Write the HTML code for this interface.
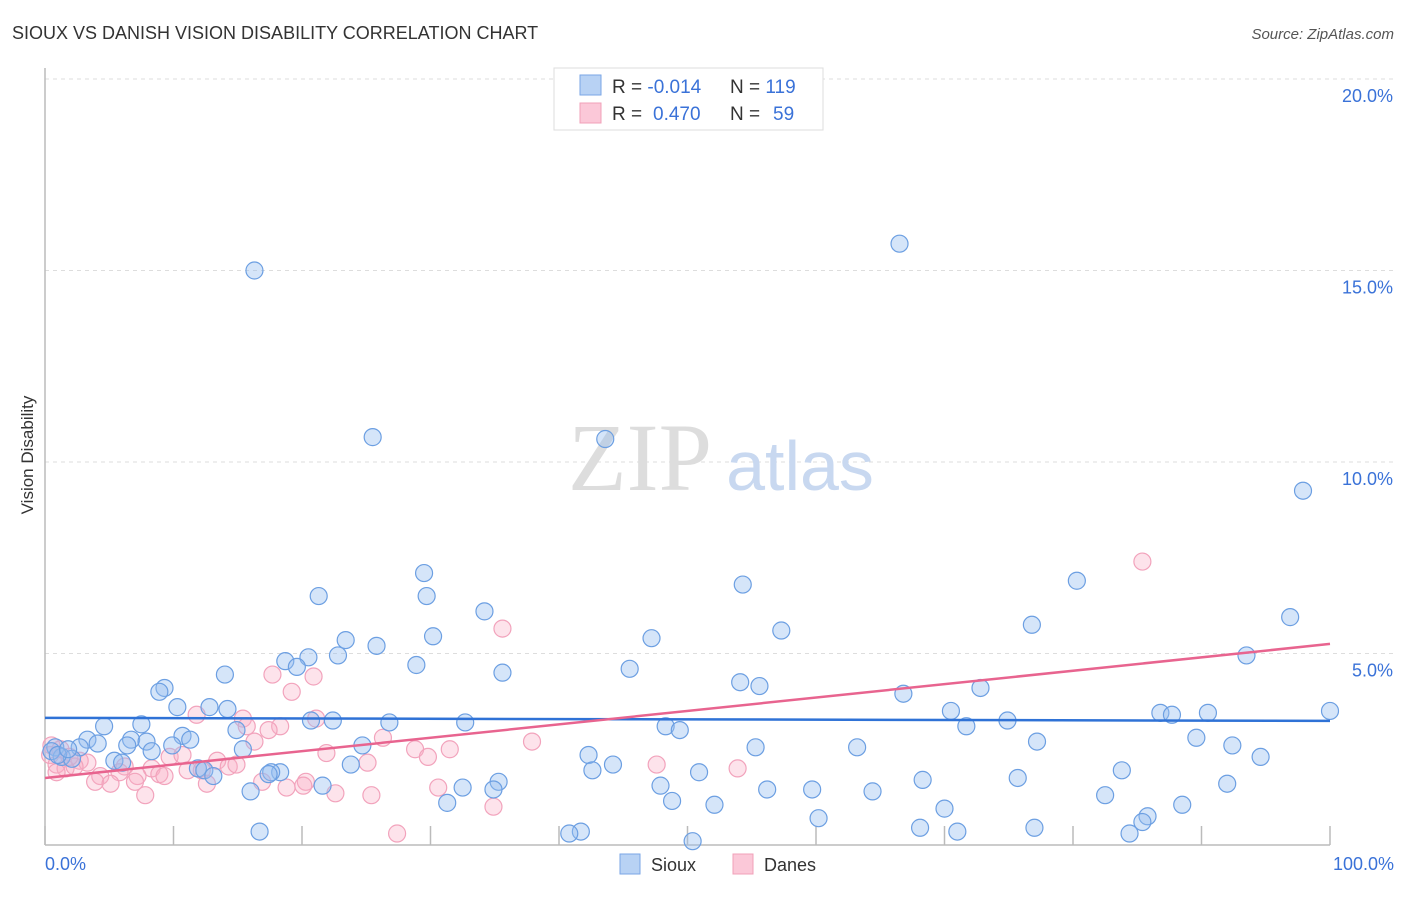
<!DOCTYPE html>
<html><head><meta charset="utf-8"><style>
body{margin:0;background:#fff;font-family:"Liberation Sans",sans-serif;}
svg text{font-family:"Liberation Sans",sans-serif;}
</style></head><body>
<svg id="chart" width="1406" height="892" xmlns="http://www.w3.org/2000/svg">
<text x="12" y="39" font-size="18" fill="#333">SIOUX VS DANISH VISION DISABILITY CORRELATION CHART</text>
<text x="1394" y="39" font-size="15" fill="#555" font-style="italic" text-anchor="end">Source: ZipAtlas.com</text>
<text x="33" y="455" font-size="17" fill="#333" text-anchor="middle" transform="rotate(-90 33 455)">Vision Disability</text>
<g id="grid"></g>
<g id="yticks"></g>
<line x1="45" y1="68" x2="45" y2="845" stroke="#bbb" stroke-width="1.5"/>
<line x1="45" y1="845" x2="1330" y2="845" stroke="#bbb" stroke-width="1.5"/>
<g id="xticks"></g>
<text x="640" y="490" font-size="96" fill="#ddd" font-family="Liberation Serif" text-anchor="middle" style="font-family:'Liberation Serif',serif">ZIP</text>
<text x="800" y="490" font-size="70" fill="#c8d8f0" text-anchor="middle">atlas</text>
<g id="pts"></g>
<g id="trends"></g>
<text x="45" y="870" font-size="18" fill="#3a72d8">0.0%</text>
<text x="1394" y="870" font-size="18" fill="#3a72d8" text-anchor="end">100.0%</text>
<g>
<rect x="554" y="68" width="269" height="62" fill="#fff" stroke="#ddd"/>
<rect x="580" y="75" width="21" height="20" fill="#b8d2f4" stroke="#7aa6e6"/>
<rect x="580" y="103" width="21" height="20" fill="#fbc8d8" stroke="#f0a0b8"/>
<text x="612" y="93" font-size="19" fill="#333">R = <tspan fill="#3a72d8">-0.014</tspan></text>
<text x="730" y="93" font-size="19" fill="#333">N = <tspan fill="#3a72d8">119</tspan></text>
<text x="612" y="120" font-size="19" fill="#333">R = <tspan fill="#3a72d8" x="653">0.470</tspan></text>
<text x="730" y="120" font-size="19" fill="#333">N = <tspan fill="#3a72d8" x="773">59</tspan></text>
</g>
<g>
<rect x="620" y="854" width="20" height="20" fill="#b8d2f4" stroke="#7aa6e6"/>
<text x="651" y="871" font-size="18" fill="#333">Sioux</text>
<rect x="733" y="854" width="20" height="20" fill="#fbc8d8" stroke="#f0a0b8"/>
<text x="764" y="871" font-size="18" fill="#333">Danes</text>
</g>
</svg>
<script>
const siouxX=[16.3,66.5,25.5,43.6,97.9,29.5,54.3,80.3,29.7,21.3,34.2,96.9,76.8,57.3,30.2,47.2,23.4,25.8,20.5,18.7,22.8,19.6,28.9,93.5,45.5,35.6,14.0,9.3,8.9,54.1,55.6,72.8,66.8,12.8,10.3,14.2,70.5,86.8,87.7,90.5,100,20.7,22.4,26.8,32.7,74.9,7.5,4.6,48.3,49.4,71.7,14.9,10.7,11.3,6.7,7.9,3.3,89.6,77.2,4.1,6.4,2.7,9.9,0.8,15.4,8.3,24.7,55.3,63.2,92.4,42.3,94.6,1.3,2.1,5.4,6.0,23.8,44.2,42.6,11.9,12.4,18.3,17.6,17.4,13.1,50.9,83.8,68.3,75.7,35.3,92,21.6,32.5,34.9,47.9,16.0,56.2,59.7,64.4,48.8,31.3,52.1,82.5,88.5,70,60.2,85.8,85.4,16.7,41.7,40.8,68.1,71,77.0,84.4,50.4,0.5,1.0,1.8];
const siouxY=[15.0,15.7,10.65,10.6,9.25,7.1,6.8,6.9,6.5,6.5,6.1,5.95,5.75,5.6,5.45,5.4,5.35,5.2,4.9,4.8,4.95,4.65,4.7,4.95,4.6,4.5,4.45,4.1,4.0,4.25,4.15,4.1,3.95,3.6,3.6,3.55,3.5,3.45,3.4,3.45,3.5,3.25,3.25,3.2,3.2,3.25,3.15,3.1,3.1,3.0,3.1,3.0,2.85,2.75,2.75,2.7,2.75,2.8,2.7,2.65,2.6,2.55,2.6,2.55,2.5,2.45,2.6,2.55,2.55,2.6,2.35,2.3,2.3,2.25,2.2,2.15,2.1,2.1,1.95,2.0,1.95,1.9,1.9,1.85,1.8,1.9,1.95,1.7,1.75,1.65,1.6,1.55,1.5,1.45,1.55,1.4,1.45,1.45,1.4,1.15,1.1,1.05,1.3,1.05,0.95,0.7,0.75,0.6,0.35,0.35,0.3,0.45,0.35,0.45,0.3,0.1,2.45,2.35,2.5];
const danesX=[85.4,35.6,17.7,20.9,19.2,11.8,15.4,21.1,15.7,18.3,17.4,26.3,16.3,37.9,28.8,31.5,21.9,29.8,9.7,13.4,10.7,25.1,0.5,0.4,2.7,3.3,0.9,1.6,6.2,8.3,14.3,14.9,12.2,11.1,47.6,53.9,0.9,4.3,5.8,7.2,8.9,7.0,3.9,5.1,9.3,12.6,16.9,20.3,20.1,18.8,30.6,22.6,7.8,25.4,34.9,27.4,2.3,1.2,1.9];
const danesY=[7.4,5.65,4.45,4.4,4.0,3.4,3.3,3.3,3.1,3.1,3.0,2.8,2.7,2.7,2.5,2.5,2.4,2.3,2.3,2.2,2.35,2.15,2.6,2.35,2.2,2.15,2.1,2.0,2.05,2.0,2.05,2.1,1.95,1.95,2.1,2.0,1.9,1.8,1.9,1.8,1.85,1.65,1.65,1.6,1.8,1.6,1.65,1.65,1.55,1.5,1.5,1.35,1.3,1.3,1.0,0.3,2.05,2.5,2.3];
const siouxTrend=[3.32,3.24];
const danesTrend=[1.75,5.25];
const yTicks=[5,10,15,20];
const yTickLabels=["5.0%","10.0%","15.0%","20.0%"];
const xTicks=[0,10,20,30,40,50,60,70,80,90,100];
const NS="http://www.w3.org/2000/svg";
const X=v=>45+v*12.85, Y=v=>845-v*38.3;
function mk(tag,attrs,parent){const e=document.createElementNS(NS,tag);for(const k in attrs)e.setAttribute(k,attrs[k]);parent.appendChild(e);return e;}
const grid=document.getElementById('grid'),yt=document.getElementById('yticks'),xt=document.getElementById('xticks'),pts=document.getElementById('pts'),tr=document.getElementById('trends');
yTicks.forEach((t,i)=>{
 const l=mk('line',{x1:45,x2:1394,y1:Y(t),y2:Y(t),stroke:'#ddd','stroke-dasharray':'4,4'},grid);
 
 
 const tx=mk('text',{x:1393,y:Y(t)+23,'font-size':18,fill:'#3a72d8','text-anchor':'end'},yt);
 tx.textContent=yTickLabels[i];
 
 
});
xTicks.forEach(t=>{
 const l=mk('line',{x1:X(t),x2:X(t),y1:826,y2:845,stroke:'#bbb','stroke-width':1.5},xt);
 
 
});
danesX.forEach((x,i)=>{
 const c=mk('circle',{cx:X(x),cy:Y(danesY[i]),r:8.5,fill:'rgba(248,175,198,0.35)',stroke:'#f2a3bc','stroke-width':1.2},pts);
 
 
});
siouxX.forEach((x,i)=>{
 const c=mk('circle',{cx:X(x),cy:Y(siouxY[i]),r:8.5,fill:'rgba(150,190,240,0.4)',stroke:'#6c9fe2','stroke-width':1.2},pts);
 
 
});
const bl=mk('line',{x1:X(0),x2:X(100),y1:Y(siouxTrend[0]),y2:Y(siouxTrend[1]),stroke:'#2f72d6','stroke-width':2.5},tr);


const pl=mk('line',{x1:X(0),x2:X(100),y1:Y(danesTrend[0]),y2:Y(danesTrend[1]),stroke:'#e8648f','stroke-width':2.5},tr);


</script>
</body></html>
